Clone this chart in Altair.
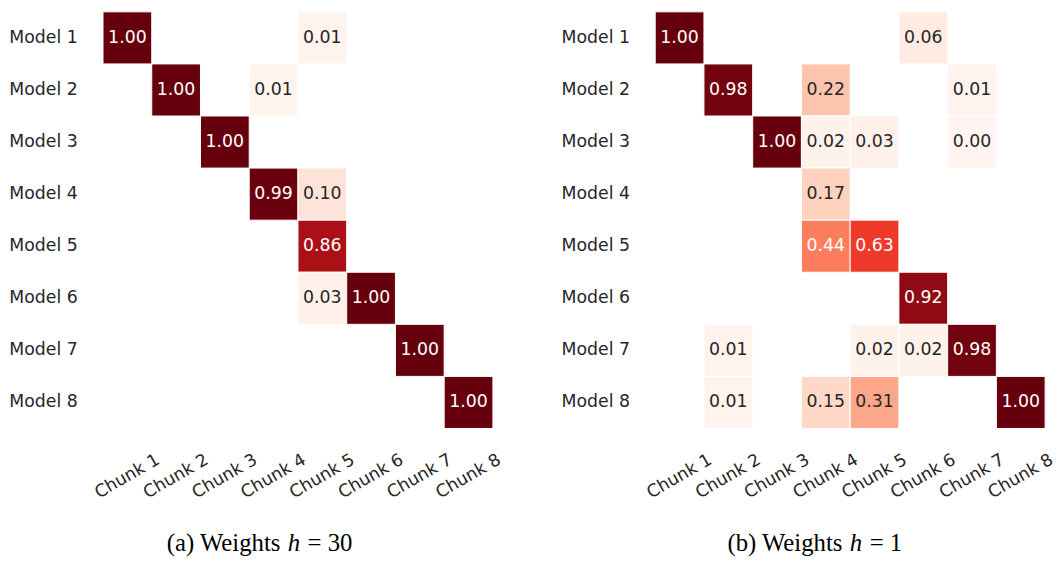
import altair as alt
import pandas as pd

models = [f"Model {i}" for i in range(1, 9)]
chunks = [f"Chunk {i}" for i in range(1, 9)]

# Panel (a): weights h = 30  (model index, chunk index, value)
h30_model = [1, 1, 2, 2, 3, 4, 4, 5, 6, 6, 7, 8]
h30_chunk = [1, 5, 2, 4, 3, 4, 5, 5, 5, 6, 7, 8]
h30_value = [1.00, 0.01, 1.00, 0.01, 1.00, 0.99, 0.10, 0.86, 0.03, 1.00, 1.00, 1.00]

# Panel (b): weights h = 1
h1_model = [1, 1, 2, 2, 2, 3, 3, 3, 3, 4, 5, 5, 6, 7, 7, 7, 7, 8, 8, 8, 8]
h1_chunk = [1, 6, 2, 4, 7, 3, 4, 5, 7, 4, 4, 5, 6, 2, 5, 6, 7, 2, 4, 5, 8]
h1_value = [1.00, 0.06, 0.98, 0.22, 0.01, 1.00, 0.02, 0.03, 0.004, 0.17, 0.44, 0.63,
            0.92, 0.01, 0.02, 0.02, 0.98, 0.01, 0.15, 0.31, 1.00]

cap_prefix = ["(a) Weights", "(b) Weights"]
cap_var = "h"
cap_suffix = ["= 30", "= 1"]

reds_stops = [0, 0.125, 0.25, 0.375, 0.5, 0.625, 0.75, 0.875, 1.0]
reds_colors = ["#fff5f0", "#fee0d2", "#fcbba1", "#fc9272", "#fb6a4a",
               "#ef3b2c", "#cb181d", "#a50f15", "#67000d"]

FONT = "DejaVu Sans"
SERIF = "Liberation Serif"
FS = 17.5
CFS = 25
W, H = 394, 421
SPACING = 57
CAP_Y = 545  # caption baseline, relative to plot top

# Times-compatible advance widths (em) for caption layout
EM = {"(": .333, ")": .333, "a": .444, "b": .5, " ": .25, "W": .944, "e": .444, "i": .278,
      "g": .5, "h": .5, "t": .278, "s": .389, "=": .564, "0": .5, "1": .5, "3": .5}


def tw(s):
    return sum(EM[c] for c in s) * CFS


def panel(mi, ci, vals, idx, cap_center):
    df = pd.DataFrame({
        "model": [models[m - 1] for m in mi],
        "chunk": [chunks[c - 1] for c in ci],
        "value": vals,
        "label": [f"{v:.2f}" for v in vals],
    })
    x = alt.X("chunk:N", scale=alt.Scale(domain=chunks, paddingInner=0, paddingOuter=0),
              axis=alt.Axis(title=None, labelAngle=-30, labelAlign="center",
                            labelBaseline="middle", labelPadding=48, ticks=False,
                            tickSize=0, domain=False, labelFont=FONT, labelFontSize=FS,
                            labelColor="#262626"))
    y = alt.Y("model:N", scale=alt.Scale(domain=models, paddingInner=0, paddingOuter=0),
              axis=alt.Axis(title=None, labelPadding=26, ticks=False, tickSize=0,
                            domain=False, labelFont=FONT, labelFontSize=FS,
                            labelColor="#262626"))
    base = alt.Chart(df).encode(x=x, y=y)
    rects = base.mark_rect(stroke="white", strokeWidth=1).encode(
        color=alt.Color("value:Q",
                        scale=alt.Scale(domain=reds_stops, range=reds_colors,
                                        interpolate="rgb"),
                        legend=None)
    )
    texts = base.mark_text(font=FONT, fontSize=FS).encode(
        text="label:N",
        color=alt.condition(alt.datum.value > 0.4, alt.value("white"), alt.value("#262626")),
    )

    # caption: "(x) Weights" + italic h + "= N"
    gap = 0.3 * CFS
    pre, suf = cap_prefix[idx], cap_suffix[idx]
    total = tw(pre) + gap + tw("h") + gap + tw(suf)
    left = cap_center - total / 2
    x_pre_right = left + tw(pre)
    x_var = x_pre_right + gap
    x_suf = x_var + tw("h") + gap
    cap1 = alt.Chart(pd.DataFrame({"t": [pre]})).mark_text(
        font=SERIF, fontSize=CFS, align="right", baseline="alphabetic", color="black"
    ).encode(text="t:N", x=alt.value(x_pre_right), y=alt.value(CAP_Y))
    cap2 = alt.Chart(pd.DataFrame({"t": [cap_var]})).mark_text(
        font=SERIF, fontSize=CFS, fontStyle="italic", align="left", baseline="alphabetic",
        color="black"
    ).encode(text="t:N", x=alt.value(x_var), y=alt.value(CAP_Y))
    cap3 = alt.Chart(pd.DataFrame({"t": [suf]})).mark_text(
        font=SERIF, fontSize=CFS, align="left", baseline="alphabetic", color="black"
    ).encode(text="t:N", x=alt.value(x_suf), y=alt.value(CAP_Y))
    return alt.layer(rects, texts, cap1, cap2, cap3).properties(width=W, height=H)


# caption centres relative to each panel's plot origin
chart = alt.hconcat(
    panel(h30_model, h30_chunk, h30_value, 0, 157),
    panel(h1_model, h1_chunk, h1_value, 1, 160),
    spacing=SPACING,
).properties(
    padding=0,
    background="white",
).configure_view(stroke=None)

chart.save("out.html", embed_options={"renderer": "svg", "actions": False})
